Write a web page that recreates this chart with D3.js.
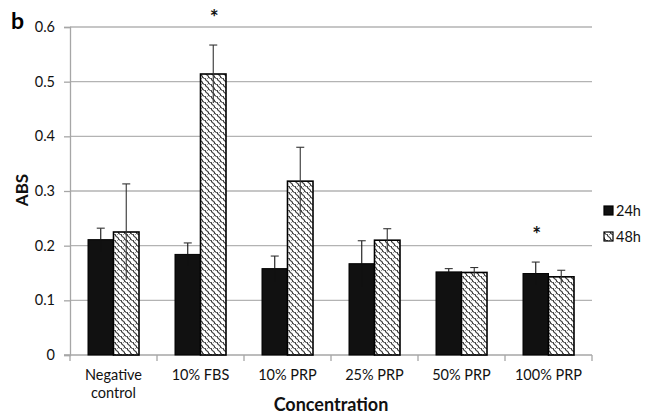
<!DOCTYPE html>
<html><head><meta charset="utf-8">
<script src="https://cdn.jsdelivr.net/npm/d3@7"></script>
<style>body{margin:0;background:#fff}svg{display:block}text{font-family:Lato,"Open Sans",sans-serif}</style>
</head><body>
<svg id="c" width="645" height="416"></svg>
<script>
const categories = ["Negative control","10% FBS","10% PRP","25% PRP","50% PRP","100% PRP"];
const series = ["24h","48h"];
const values24 = [0.211,0.184,0.158,0.167,0.152,0.149];
const errors24 = [0.021,0.021,0.023,0.042,0.006,0.021];
const values48 = [0.225,0.514,0.318,0.210,0.151,0.143];
const errors48 = [0.088,0.053,0.062,0.021,0.009,0.012];
const significant24 = [false,false,false,false,false,true];
const significant48 = [false,true,false,false,false,false];
const yTicks = [0,0.1,0.2,0.3,0.4,0.5,0.6];

const svg = d3.select("#c");
const m = {l:70, r:592, t:27, b:355};
const x = d3.scaleBand().domain(categories).range([m.l, m.r]).paddingInner(0).paddingOuter(0);
const y = d3.scaleLinear().domain([0,0.6]).range([m.b, m.t]);

// pattern
const defs = svg.append("defs");
const pat = defs.append("pattern").attr("id","wave").attr("patternUnits","userSpaceOnUse")
  .attr("width",6).attr("height",6);
pat.append("rect").attr("width",6).attr("height",6).attr("fill","#fff");
pat.append("path").attr("d","M0,0 C2.5,0 1,3 3,3 C5,3 3.5,6 6,6 M-3,3 C-0.5,3 -2,6 0,6 M3,0 C5,0 3.5,-3 6,-3 M3,-3 C5.5,-3 4,0 6,0 C8,0 6.5,3 9,3")
  .attr("fill","none").attr("stroke","#222").attr("stroke-width",1.1);

// gridlines
svg.append("g").selectAll("line").data(yTicks.slice(1)).join("line")
  .attr("x1",m.l).attr("x2",m.r).attr("y1",d=>y(d)).attr("y2",d=>y(d))
  .attr("stroke","#b3b3b3").attr("stroke-width",1.3);

// y axis
const ya = svg.append("g").attr("transform",`translate(${m.l},0)`)
  .call(d3.axisLeft(y).tickValues(yTicks).tickFormat(d=>d===0?"0":d3.format(".1f")(d)).tickSize(6).tickPadding(9));
ya.select(".domain").attr("stroke","#a6a6a6").attr("stroke-width",1.3);
ya.selectAll(".tick line").attr("stroke","#a6a6a6").attr("stroke-width",1.3);
ya.selectAll(".tick text").attr("font-size",14.5).attr("fill","#111").attr("font-family","Lato,sans-serif");

// x axis
const xa = svg.append("g").attr("transform",`translate(0,${m.b})`)
  .call(d3.axisBottom(x).tickSize(0).tickFormat(""));
xa.select(".domain").attr("stroke","#a6a6a6").attr("stroke-width",1.3).attr("d",`M${m.l-6},0H${m.r}`);
svg.append("g").selectAll("line").data(categories.map((c,i)=>i).concat([categories.length])).join("line")
  .attr("x1",i=> i<categories.length ? x(categories[i]) : m.r)
  .attr("x2",i=> i<categories.length ? x(categories[i]) : m.r)
  .attr("y1",m.b).attr("y2",m.b+6).attr("stroke","#a6a6a6").attr("stroke-width",1.3);

// category labels
const cl = svg.append("g").selectAll("text").data(categories).join("text")
  .attr("x",d=>x(d)+x.bandwidth()/2).attr("y",380).attr("text-anchor","middle")
  .attr("font-size",14.5).attr("fill","#111");
cl.each(function(d){
  const words = d==="Negative control" ? ["Negative","control"] : [d];
  const t = d3.select(this);
  words.forEach((w,i)=>t.append("tspan").attr("x",x(d)+x.bandwidth()/2).attr("dy",i?18:0).text(w));
});

// bars
const rows = categories.map((c,i)=>({c, v:[values24[i],values48[i]], e:[errors24[i],errors48[i]], s:[significant24[i],significant48[i]]}));
const bw = 25.5;
const off = [x.bandwidth()/2 - bw, x.bandwidth()/2];
const g = svg.append("g");
rows.forEach(r=>{
  [0,1].forEach(k=>{
    const bx = x(r.c)+off[k];
    g.append("rect").attr("x",bx).attr("y",y(r.v[k])).attr("width",bw).attr("height",y(0)-y(r.v[k]))
      .attr("fill", k===0 ? "#111" : "url(#wave)")
      .attr("stroke","#000").attr("stroke-width",k===0?1:1.6);
    const cx = bx+bw/2;
    const ec = k===0 ? "#111" : "#333";
    g.append("line").attr("x1",cx).attr("x2",cx).attr("y1",y(r.v[k]+r.e[k])).attr("y2",y(r.v[k]-r.e[k]))
      .attr("stroke",ec).attr("stroke-width",1.1);
    g.append("line").attr("x1",cx-4).attr("x2",cx+4).attr("y1",y(r.v[k]+r.e[k])).attr("y2",y(r.v[k]+r.e[k]))
      .attr("stroke","#333").attr("stroke-width",1.1);
    if(r.s[k]) g.append("text").attr("x",cx+1).attr("y",y(r.v[k]+r.e[k])-20).attr("text-anchor","middle")
      .attr("font-size",21).attr("font-weight","bold").attr("fill","#111").text("*");
  });
});

// legend
const lg = svg.append("g");
series.forEach((s,i)=>{
  const ly = 211 + i*26;
  lg.append("rect").attr("x",604).attr("y",ly-5).attr("width",9).attr("height",9)
    .attr("fill", i===0 ? "#111" : "url(#wave)").attr("stroke","#000").attr("stroke-width",1.2);
  lg.append("text").attr("x",616).attr("y",ly+5).attr("font-size",14.5).attr("fill","#111").text(s);
});

// titles
svg.append("text").attr("x",331).attr("y",411).attr("text-anchor","middle").attr("font-size",18)
  .attr("font-weight","bold").attr("fill","#111").text("Concentration");
svg.append("text").attr("transform","translate(28,190) rotate(-90)").attr("text-anchor","middle")
  .attr("font-size",17).attr("font-weight","bold").attr("fill","#111").text("ABS");
svg.append("text").attr("x",11).attr("y",29).attr("font-size",23).attr("font-weight","bold")
  .attr("font-family","Liberation Sans,Arial,sans-serif").attr("fill","#000").text("b");
</script>
</body></html>
